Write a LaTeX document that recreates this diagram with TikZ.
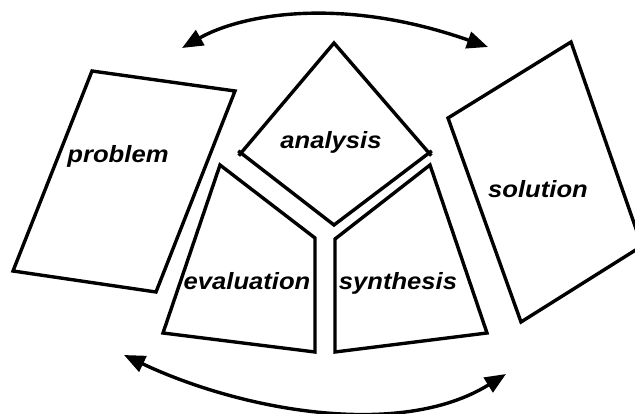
\documentclass[tikz,border=0pt]{standalone}
\usepackage{fontspec}
\setmainfont{Liberation Sans}
\usetikzlibrary{arrows.meta}
\tikzset{
  shapeline/.style={draw=black, line width=3.4pt, line join=miter},
  opencorner/.style={draw=black, line width=3.4pt, line join=miter, shorten <=-3.5pt, shorten >=-3.5pt},
  label/.style={font=\fontsize{23.5}{27}\selectfont\bfseries\itshape, xscale=1.09, inner sep=0pt, anchor=base},
  cyc/.style={draw=black, line width=3.4pt, {Triangle[length=21pt,width=17pt]}-{Triangle[length=21pt,width=17pt]}}
}
\begin{document}
\begin{tikzpicture}[x=1pt,y=-1pt]
\useasboundingbox (0,0) rectangle (635,414);
% problem
\draw[shapeline] (92,71) -- (235,91) -- (156,292) -- (13,271) -- cycle;
% analysis diamond
\coordinate (aT) at (334,43);
\coordinate (aL) at (241,153);
\coordinate (aR) at (429,153);
\coordinate (aB) at (334,225);
\draw[opencorner] (aL) -- (aT) -- (aR);
\draw[opencorner] (aL) -- (aB) -- (aR);
% evaluation
\draw[shapeline] (220,165) -- (315,238) -- (315,352) -- (163,333) -- cycle;
% synthesis
\draw[shapeline] (430,165) -- (335,239) -- (335,352) -- (487,333) -- cycle;
% solution
\draw[shapeline] (571,42) -- (642,246) -- (521,322) -- (448,118) -- cycle;
% labels
\node[label] (problem) at (118,162.5) {problem};
\node[label] (analysis) at (331,149) {analysis};
\node[label] (evaluation) at (247,290) {evaluation};
\node[label] (synthesis) at (398,290) {synthesis};
\node[label] (solution) at (538,198) {solution};
% cycle arrows
\coordinate (tl) at (182,48);
\coordinate (tr) at (488,47);
\coordinate (bl) at (124,355);
\coordinate (br) at (506,374);
\draw[cyc] (tl) .. controls (240,15) and (340,-5) .. (tr);
\draw[cyc] (bl) .. controls (240,410) and (400,440) .. (br);
\end{tikzpicture}
\end{document}
